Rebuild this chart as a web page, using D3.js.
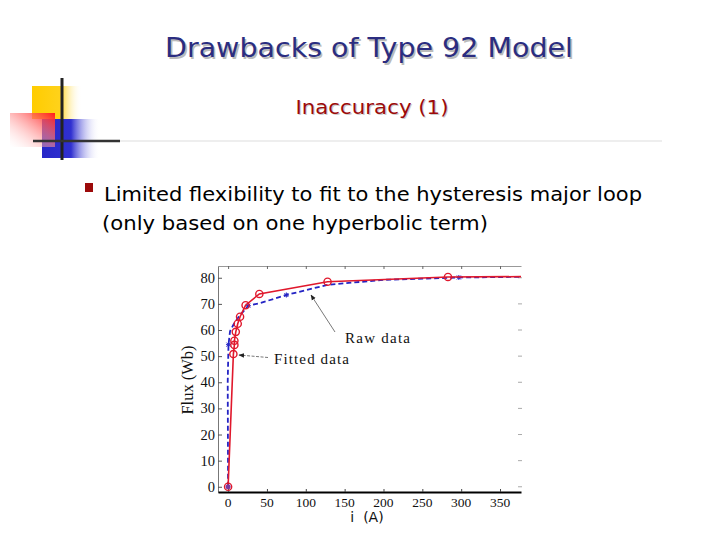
<!DOCTYPE html>
<html>
<head>
<meta charset="utf-8">
<script src="https://cdn.jsdelivr.net/npm/d3@7"></script>
<style>
  body { margin: 0; background: #fff; }
  svg { display: block; }
</style>
</head>
<body>
<svg width="720" height="540"></svg>
<script>
// measured data (current in A, flux in Wb)
const rawI = [0, 6.8, 8.1, 8.1, 9.9, 12.4, 15.4, 22.5, 40.2, 128, 283, 420];
const rawFlux = [0, 50.8, 54.3, 55.9, 59.3, 62.4, 65.1, 69.5, 73.8, 78.5, 80.3, 80.5];

// fitted curve (type 92 model)
const fitI = [0, -0.5, 0.5, 2.5, 6.8, 14, 26, 41, 75, 128, 200, 297, 420];
const fitFlux = [0, 40, 54.4, 59.5, 62, 65.2, 69.3, 70.3, 73.4, 77.3, 79.2, 80.1, 80.5];
const fitMarks = [2, 6, 8, 11];

const xTicks = [0, 50, 100, 150, 200, 250, 300, 350];
const yTicks = [0, 10, 20, 30, 40, 50, 60, 70, 80];

const svg = d3.select("svg");
const serif = "'Liberation Serif', 'DejaVu Serif', serif";
const sans = "Tahoma, 'DejaVu Sans', Verdana, sans-serif";

// ---- slide decoration (logo) ----
const defs = svg.append("defs");
const gY = defs.append("linearGradient").attr("id", "gY");
gY.append("stop").attr("offset", "0%").attr("stop-color", "#ffcc00");
gY.append("stop").attr("offset", "55%").attr("stop-color", "#ffd21a");
gY.append("stop").attr("offset", "100%").attr("stop-color", "#fff").attr("stop-opacity", 0);
const gB = defs.append("linearGradient").attr("id", "gB");
gB.append("stop").attr("offset", "0%").attr("stop-color", "#2727c8");
gB.append("stop").attr("offset", "50%").attr("stop-color", "#3030d0");
gB.append("stop").attr("offset", "100%").attr("stop-color", "#fff").attr("stop-opacity", 0);
const gR = defs.append("linearGradient").attr("id", "gR")
  .attr("x1", "100%").attr("y1", "0%").attr("x2", "0%").attr("y2", "100%");
gR.append("stop").attr("offset", "0%").attr("stop-color", "#ff1a1a");
gR.append("stop").attr("offset", "100%").attr("stop-color", "#fff").attr("stop-opacity", 0.2);

svg.append("rect").attr("x", 32).attr("y", 86).attr("width", 50).attr("height", 33).attr("fill", "url(#gY)");
svg.append("rect").attr("x", 42).attr("y", 119).attr("width", 58).attr("height", 39).attr("fill", "url(#gB)");
svg.append("rect").attr("x", 10).attr("y", 113).attr("width", 45).attr("height", 34).attr("fill", "url(#gR)");
svg.append("line").attr("x1", 62).attr("x2", 62).attr("y1", 78).attr("y2", 160)
  .attr("stroke", "#222").attr("stroke-width", 3);
svg.append("line").attr("x1", 33).attr("x2", 120).attr("y1", 141).attr("y2", 141)
  .attr("stroke", "#333").attr("stroke-width", 2.5);
svg.append("line").attr("x1", 120).attr("x2", 662).attr("y1", 141).attr("y2", 141)
  .attr("stroke", "#ddd").attr("stroke-width", 1);

// ---- titles ----
svg.append("text").attr("x", 369).attr("y", 57).attr("text-anchor", "middle")
  .attr("font-family", sans).attr("font-size", 26).attr("fill", "#2b2d80")
  .attr("textLength", 408).attr("lengthAdjust", "spacingAndGlyphs")
  .style("text-shadow", "1.5px 1.5px 0 #bbb")
  .text("Drawbacks of Type 92 Model");

svg.append("text").attr("x", 372).attr("y", 114).attr("text-anchor", "middle")
  .attr("font-family", sans).attr("font-size", 20).attr("fill", "#9c0a0a")
  .attr("textLength", 153).attr("lengthAdjust", "spacingAndGlyphs")
  .style("text-shadow", "1px 1px 0 #ccc")
  .text("Inaccuracy (1)");

// ---- bullet ----
svg.append("rect").attr("x", 85).attr("y", 183).attr("width", 8).attr("height", 9).attr("fill", "#9c0a0a");
svg.append("text").attr("x", 104).attr("y", 201)
  .attr("font-family", sans).attr("font-size", 20).attr("fill", "#000")
  .attr("textLength", 538).attr("lengthAdjust", "spacingAndGlyphs")
  .text("Limited flexibility to fit to the hysteresis major loop");
svg.append("text").attr("x", 102).attr("y", 230)
  .attr("font-family", sans).attr("font-size", 20).attr("fill", "#000")
  .attr("textLength", 386).attr("lengthAdjust", "spacingAndGlyphs")
  .text("(only based on one hyperbolic term)");

// ---- chart ----
const L = 218, R = 521, T = 266, B = 492;
const x = d3.scaleLinear().domain([-13, 377]).range([L, R]);
const y = d3.scaleLinear().domain([-2, 84.5]).range([B, T]);

defs.append("clipPath").attr("id", "plot")
  .append("rect").attr("x", L).attr("y", T - 6).attr("width", R - L).attr("height", B - T + 6);

// left spine with inward ticks and labels
const yAxis = svg.append("g").attr("transform", `translate(${L},0)`)
  .call(d3.axisRight(y).tickValues(yTicks).tickSize(4).tickFormat(""));
yAxis.select(".domain").attr("stroke", "#777");
yAxis.selectAll(".tick line").attr("stroke", "#555");
svg.append("g").selectAll("text").data(yTicks).join("text")
  .attr("x", L - 3).attr("y", d => y(d) + 5).attr("text-anchor", "end")
  .attr("font-family", serif).attr("font-size", 14.5).attr("fill", "#111")
  .text(d => d);

// top spine with ticks
const topAxis = svg.append("g").attr("transform", `translate(0,${T})`)
  .call(d3.axisBottom(x).tickValues(xTicks).tickSize(3).tickFormat("").tickSizeOuter(0));
topAxis.select(".domain").attr("stroke", "#999");
topAxis.selectAll(".tick line").attr("stroke", "#666");

// right ticks only
svg.append("g").selectAll("line").data(yTicks).join("line")
  .attr("x1", R - 3).attr("x2", R + 1).attr("y1", d => y(d)).attr("y2", d => y(d))
  .attr("stroke", "#aaa");

// bottom axis
const xAxis = svg.append("g").attr("transform", `translate(0,${B})`)
  .call(d3.axisTop(x).tickValues(xTicks).tickSize(3).tickFormat("").tickSizeOuter(0));
xAxis.select(".domain").attr("stroke", "#000").attr("stroke-width", 2);
xAxis.selectAll(".tick line").attr("stroke", "#444");
svg.append("g").selectAll("text").data(xTicks).join("text")
  .attr("x", d => x(d)).attr("y", 507).attr("text-anchor", "middle")
  .attr("font-family", serif).attr("font-size", 13.5).attr("fill", "#111")
  .text(d => d);

// axis titles
svg.append("text").attr("transform", "translate(193,380) rotate(-90)")
  .attr("text-anchor", "middle").attr("font-family", serif).attr("font-size", 16.5)
  .attr("fill", "#111").text("Flux (Wb)");
svg.append("text").attr("x", 367).attr("y", 522).attr("text-anchor", "middle")
  .attr("font-family", sans).attr("font-size", 14).attr("fill", "#111")
  .attr("xml:space", "preserve").text("i  (A)");

const plot = svg.append("g").attr("clip-path", "url(#plot)");
const line = d3.line().x(d => x(d[0])).y(d => y(d[1]));

const fit = d3.zip(fitI, fitFlux);
const raw = d3.zip(rawI, rawFlux);

plot.append("path").datum(fit).attr("d", line)
  .attr("fill", "none").attr("stroke", "#2424c4").attr("stroke-width", 1.8)
  .attr("stroke-dasharray", "5,3");
plot.append("g").selectAll("path").data(fitMarks.map(i => fit[i])).join("path")
  .attr("transform", d => `translate(${x(d[0])},${y(d[1])})`)
  .attr("d", "M-2.5,0H2.5M0,-2.5V2.5M-2,-2L2,2M-2,2L2,-2")
  .attr("stroke", "#2424c4").attr("stroke-width", 1);

plot.append("path").datum(raw).attr("d", line)
  .attr("fill", "none").attr("stroke", "#e0182c").attr("stroke-width", 1.6);
plot.append("g").selectAll("circle").data(raw).join("circle")
  .attr("cx", d => x(d[0])).attr("cy", d => y(d[1])).attr("r", 3.6)
  .attr("fill", "none").attr("stroke", "#e0182c").attr("stroke-width", 1.4);
// origin point of the fitted set drawn over
svg.append("circle").attr("cx", x(0)).attr("cy", y(0)).attr("r", 2.5).attr("fill", "#7a3aa0");

// annotations
svg.append("defs").append("marker").attr("id", "arr").attr("viewBox", "0 0 10 10")
  .attr("refX", 9).attr("refY", 5).attr("markerWidth", 7).attr("markerHeight", 7)
  .attr("orient", "auto-start-reverse")
  .append("path").attr("d", "M0,1L10,5L0,9Z").attr("fill", "#222");

svg.append("line").attr("x1", 335).attr("y1", 332).attr("x2", 311).attr("y2", 295)
  .attr("stroke", "#555").attr("stroke-width", 0.8).attr("marker-end", "url(#arr)");
svg.append("text").attr("x", 345).attr("y", 343)
  .attr("font-family", serif).attr("font-size", 15).attr("fill", "#111")
  .attr("textLength", 65).attr("lengthAdjust", "spacing").text("Raw data");

svg.append("line").attr("x1", 268).attr("y1", 357.5).attr("x2", 239).attr("y2", 355)
  .attr("stroke", "#555").attr("stroke-width", 0.8).attr("stroke-dasharray", "3,1.5")
  .attr("marker-end", "url(#arr)");
svg.append("text").attr("x", 274).attr("y", 364)
  .attr("font-family", serif).attr("font-size", 15).attr("fill", "#111")
  .attr("textLength", 75).attr("lengthAdjust", "spacing").text("Fitted data");
</script>
</body>
</html>
